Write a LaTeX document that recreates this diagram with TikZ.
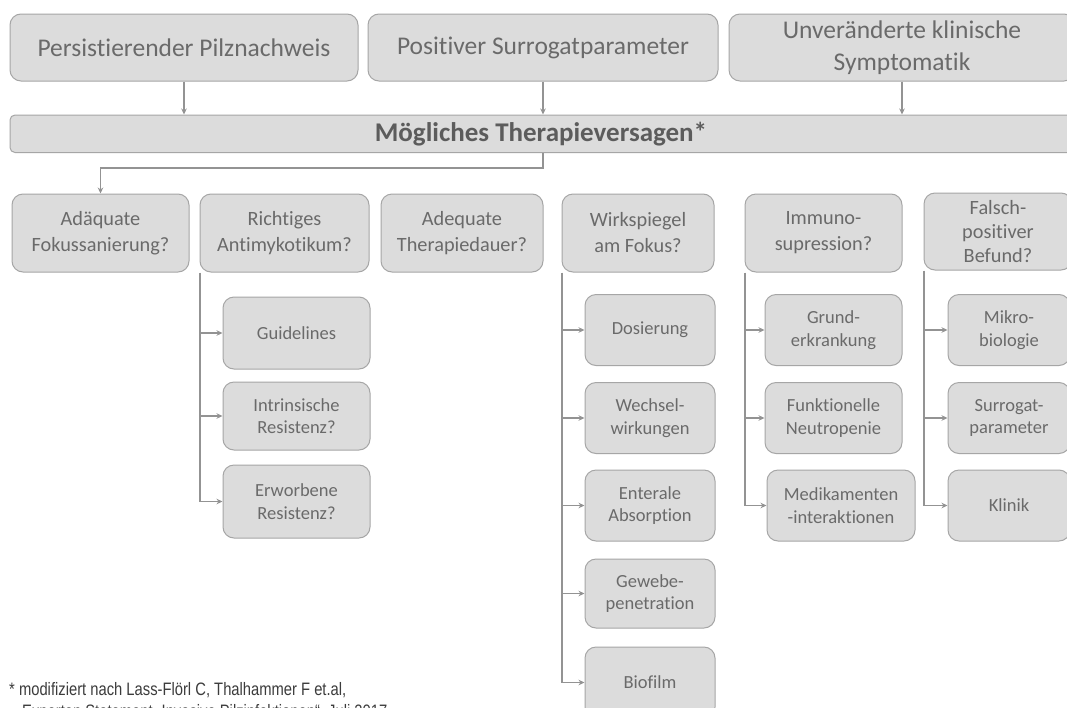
\documentclass[tikz,border=0pt]{standalone}
\usepackage{fontspec}
\setmainfont{Carlito}[Ligatures={NoCommon}]
\newfontfamily\fnfont{Liberation Sans}
\usetikzlibrary{arrows.meta}
\definecolor{fillc}{HTML}{DCDCDC}
\definecolor{bordc}{HTML}{A6A6A6}
\definecolor{txtc}{HTML}{6A6A6A}
\definecolor{barc}{HTML}{5C5C5C}
\definecolor{linec}{HTML}{939393}
\definecolor{fnc}{HTML}{3C3C3C}
\tikzset{
  box/.style={draw=bordc, fill=fillc, text=txtc, rounded corners=11pt, line width=1pt,
    align=center, inner sep=0pt, font=\fontsize{20.3}{26}\selectfont},
  topbox/.style={box, minimum height=67pt, font=\fontsize{25.5}{32}\selectfont},
  qbox/.style={box, minimum height=78pt},
  subbox/.style={box, minimum height=71pt, font=\fontsize{18.5}{22.5}\selectfont},
  conn/.style={draw=linec, line width=1.3pt},
  arr/.style={conn, -{Stealth[length=6pt,width=5.5pt]}},
  fntext/.style={anchor=base west, inner sep=0pt, text=fnc, font=\fnfont\fontsize{18}{22}\selectfont},
}
\begin{document}
\begin{tikzpicture}[x=1pt,y=-1pt]
\useasboundingbox (0,0) rectangle (1067,707);
\clip (0,0) rectangle (1067,707);
\fill[white] (0,0) rectangle (1067,707);
% top row
\node[topbox, minimum width=348pt] (t1) at (184,47.5) {Persistierender Pilznachweis};
\node[topbox, minimum width=350pt] (t2) at (543,47.5) {Positiver Surrogatparameter};
\node[topbox, minimum width=346pt] (t3) at (902,47.5) {Unveränderte klinische\\Symptomatik};
% bar
\node[box, rounded corners=5pt, minimum width=1062pt, minimum height=37.5pt, text=barc,
  font=\fontsize{27}{30}\selectfont\bfseries] (bar) at (541,133.75) {Mögliches Therapieversagen*};
\draw[arr] (t1.south) -- (t1.south |- bar.north);
\draw[arr] (t2.south) -- (t2.south |- bar.north);
\draw[arr] (t3.south) -- (t3.south |- bar.north);
% question row
\node[qbox, minimum width=177pt] (a1) at (100.5,233) {Adäquate\\Fokussanierung?};
\node[qbox, minimum width=169pt] (a2) at (284.5,233) {Richtiges\\Antimykotikum?};
\node[qbox, minimum width=162pt] (a3) at (462,233) {Adequate\\Therapiedauer?};
\node[qbox, minimum width=152pt] (a4) at (638,233) {Wirkspiegel\\am Fokus?};
\node[qbox, minimum width=157pt] (a5) at (823.5,233) {Immuno-\\supression?};
\node[qbox, minimum width=148pt, minimum height=77pt, font=\fontsize{20.3}{24}\selectfont] (a6) at (998,231.5) {Falsch-\\positiver\\Befund?};
\coordinate (elbow) at (543,168);
\draw[arr] (bar.south -| t2.south) -- (elbow) -| (a1.north);
% Richtiges column
\node[subbox, minimum width=147pt, minimum height=72pt] (r1) at (296.5,333) {Guidelines};
\node[subbox, minimum width=147pt, minimum height=68pt] (r2) at (296.5,416) {Intrinsische\\Resistenz?};
\node[subbox, minimum width=147pt, minimum height=73pt] (r3) at (296.5,501.5) {Erworbene\\Resistenz?};
\draw[conn] ([xshift=0.5pt]a2.south west) -- ([xshift=0.5pt]a2.south west |- r3.west);
\foreach \n in {r1,r2,r3} \draw[arr] ([xshift=0.5pt]a2.south west |- \n.west) -- (\n.west);
% Wirkspiegel column
\node[subbox, minimum width=130pt] (w1) at (650,330) {Dosierung};
\node[subbox, minimum width=130pt] (w2) at (650,418) {Wechsel-\\wirkungen};
\node[subbox, minimum width=130pt] (w3) at (650,505.5) {Enterale\\Absorption};
\node[subbox, minimum width=130pt, minimum height=69pt] (w4) at (650,593.5) {Gewebe-\\penetration};
\node[subbox, minimum width=130pt] (w5) at (650,682.5) {Biofilm};
\draw[conn] ([xshift=0.5pt]a4.south west) -- ([xshift=0.5pt]a4.south west |- w5.west);
\foreach \n in {w1,w2,w3,w4,w5} \draw[arr] ([xshift=0.5pt]a4.south west |- \n.west) -- (\n.west);
% Immuno column
\node[subbox, minimum width=137pt] (i1) at (833.5,330) {Grund-\\erkrankung};
\node[subbox, minimum width=137pt] (i2) at (833.5,418) {Funktionelle\\Neutropenie};
\node[subbox, minimum width=148pt] (i3) at (841,505.5) {Medikamenten\\-interaktionen};
\draw[conn] ([xshift=0.5pt]a5.south west) -- ([xshift=0.5pt]a5.south west |- i3.west);
\foreach \n in {i1,i2,i3} \draw[arr] ([xshift=0.5pt]a5.south west |- \n.west) -- (\n.west);
% Falsch column
\node[subbox, minimum width=122pt] (f1) at (1009,330) {Mikro-\\biologie};
\node[subbox, minimum width=122pt] (f2) at (1009,418) {Surrogat-\\parameter};
\node[subbox, minimum width=122pt] (f3) at (1009,505.5) {Klinik};
\draw[conn] ([xshift=0.5pt]a6.south west) -- ([xshift=0.5pt]a6.south west |- f3.west);
\foreach \n in {f1,f2,f3} \draw[arr] ([xshift=0.5pt]a6.south west |- \n.west) -- (\n.west);
% footnote
\node[fntext] (fn1) at (9,695) {\scalebox{0.82}[1]{* modifiziert nach Lass-Flörl C, Thalhammer F et.al,}};
\node[fntext] (fn2) at (22,717) {\scalebox{0.82}[1]{Experten Statement „Invasive Pilzinfektionen“, Juli 2017}};
\end{tikzpicture}
\end{document}
